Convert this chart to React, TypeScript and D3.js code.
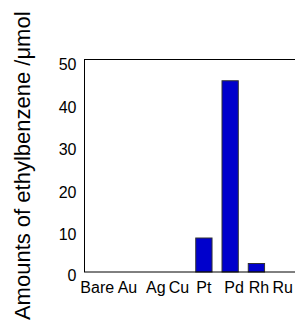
import * as d3 from "d3";

const categories = ["Bare Au", "Ag", "Cu", "Pt", "Pd", "Rh", "Ru"];
// where each label sits along the axis (bar slots)
const slots = [1.38, 3.17, 4.05, 5, 6.15, 7.1, 8];
const barSlots = [1, 3, 4, 5, 6, 7, 8];
const amounts = [0, 0, 0, 8, 45, 2, 0];
const yTicks = [0, 10, 20, 30, 40, 50];

const W = 295;
const H = 325;
const MARGIN = { top: 59.5, right: -2, bottom: 53, left: 84.5 };
const FONT = "Liberation Sans, Arial, sans-serif";

export default function App() {
  const right = W - MARGIN.right;
  const bottom = H - MARGIN.bottom;

  const xScale = d3.scaleLinear().domain([0.455, 8.545]).range([MARGIN.left, right]);
  const yScale = d3.scaleLinear().domain([0, 50]).range([bottom, MARGIN.top]);
  const barW = (xScale(1) - xScale(0)) * 0.62;

  return (
    <svg
      width={W}
      height={H}
      style={{ position: "absolute", left: 0, top: 0, background: "#fff" }}
      fontFamily={FONT}
    >
      {amounts.map((v, i) =>
        v > 0 ? (
          <rect
            key={categories[i]}
            x={xScale(barSlots[i]) - barW / 2}
            y={yScale(v)}
            width={barW}
            height={yScale(0) - yScale(v)}
            fill="#0000cc"
            stroke="#333"
            strokeWidth={1}
          />
        ) : null
      )}

      <rect
        x={MARGIN.left}
        y={MARGIN.top}
        width={right - MARGIN.left}
        height={bottom - MARGIN.top}
        fill="none"
        stroke="#000"
        strokeWidth={1}
      />

      {yTicks.map((t) => (
        <text
          key={t}
          x={MARGIN.left - 8}
          y={yScale(t) + (t === 0 ? 3 : 5)}
          textAnchor="end"
          dominantBaseline="central"
          fontSize={16}
          fill="#000"
        >
          {t}
        </text>
      ))}

      {categories.map((c, i) => (
        <text
          key={c}
          x={xScale(slots[i])}
          y={bottom + 21}
          textAnchor="middle"
          fontSize={16}
          fill="#000"
        >
          {c}
        </text>
      ))}

      <text
        transform={`translate(30,${(MARGIN.top + bottom) / 2}) rotate(-90)`}
        textAnchor="middle"
        fontSize={22}
        fill="#000"
      >
        Amounts of ethylbenzene /μmol
      </text>
    </svg>
  );
}
